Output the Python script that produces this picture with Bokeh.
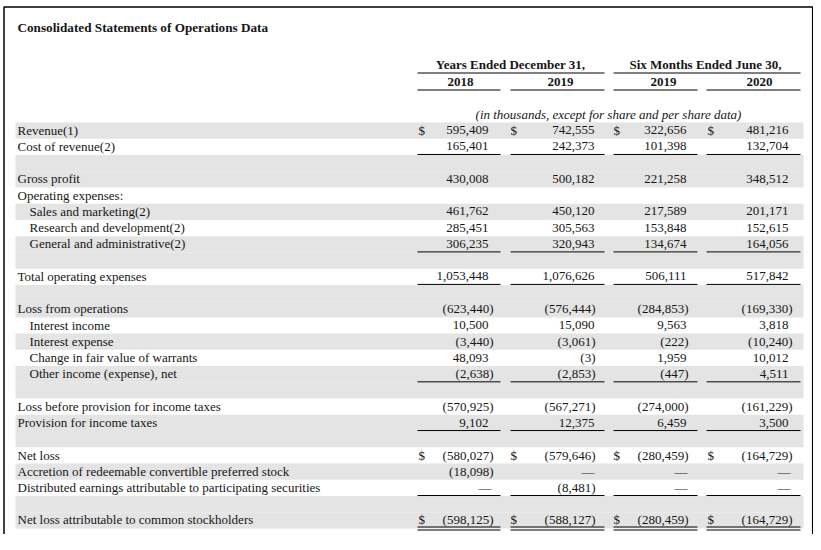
from bokeh.plotting import figure
from bokeh.models import Range1d
from bokeh.embed import file_html
from bokeh.resources import INLINE
from bokeh.core.properties import value

# ---------------- data ----------------
title = "Consolidated Statements of Operations Data"
group_headers = ["Years Ended December 31,", "Six Months Ended June 30,"]
period_labels = ["2018", "2019", "2019", "2020"]
units_note = "(in thousands, except for share and per share data)"

row_labels = [
    "Revenue(1)", "Cost of revenue(2)", "", "Gross profit", "Operating expenses:",
    "Sales and marketing(2)", "Research and development(2)", "General and administrative(2)", "",
    "Total operating expenses", "", "Loss from operations", "Interest income", "Interest expense",
    "Change in fair value of warrants", "Other income (expense), net", "",
    "Loss before provision for income taxes", "Provision for income taxes", "", "Net loss",
    "Accretion of redeemable convertible preferred stock",
    "Distributed earnings attributable to participating securities", "",
    "Net loss attributable to common stockholders",
]
# 0 = em dash, None = blank
fy2018 = [595409, 165401, None, 430008, None, 461762, 285451, 306235, None, 1053448, None,
          -623440, 10500, -3440, 48093, -2638, None, -570925, 9102, None, -580027, -18098, 0, None, -598125]
fy2019 = [742555, 242373, None, 500182, None, 450120, 305563, 320943, None, 1076626, None,
          -576444, 15090, -3061, -3, -2853, None, -567271, 12375, None, -579646, 0, -8481, None, -588127]
h1_2019 = [322656, 101398, None, 221258, None, 217589, 153848, 134674, None, 506111, None,
           -284853, 9563, -222, 1959, -447, None, -274000, 6459, None, -280459, 0, 0, None, -280459]
h1_2020 = [481216, 132704, None, 348512, None, 201171, 152615, 164056, None, 517842, None,
           -169330, 3818, -10240, 10012, 4511, None, -161229, 3500, None, -164729, 0, 0, None, -164729]
columns = [fy2018, fy2019, h1_2019, h1_2020]

indented_rows = {"Sales and marketing(2)", "Research and development(2)", "General and administrative(2)",
                 "Interest income", "Interest expense", "Change in fair value of warrants",
                 "Other income (expense), net"}
dollar_rows = {"Revenue(1)", "Net loss", "Net loss attributable to common stockholders"}
underlined_rows = {"Cost of revenue(2)", "General and administrative(2)", "Total operating expenses",
                   "Other income (expense), net", "Provision for income taxes",
                   "Distributed earnings attributable to participating securities"}
double_underlined_rows = {"Net loss attributable to common stockholders"}
shaded = [1, 0, 1, 1, 0, 1, 0, 1, 1, 0, 1, 1, 0, 1, 0, 1, 1, 0, 1, 1, 0, 1, 0, 1, 1]

# ---------------- layout ----------------
W, H = 813, 534
ROW_TOP = 122.0
RH = 16.24
TEXT = "#161616"
SHADE = "#e4e4e4"
FONT = "Liberation Serif"

COL_L = [417, 510, 613, 706]
COL_R = [500, 604, 697, 800]
POS_R = [488, 594, 686, 788]
NEG_R = [493, 595, 688, 792]
DASH_R = [491, 594, 687, 790]
DOLLAR_X = [418, 510, 613, 707]
YEAR_CX = [460, 560, 663, 759]

p = figure(width=W, height=H, output_backend="svg", toolbar_location=None,
           x_range=Range1d(0, W), y_range=Range1d(H, 0),
           x_axis_type=None, y_axis_type=None, min_border=0)
p.outline_line_color = None
p.grid.visible = False
p.background_fill_color = "white"
p.border_fill_color = "white"

n = len(row_labels)
tops = [ROW_TOP + i * RH for i in range(n)]
bots = [t + RH for t in tops]
mids = [t + RH / 2 - 0.4 for t in tops]

# shaded bands
sh_t = [tops[i] for i in range(n) if shaded[i]]
sh_b = [bots[i] for i in range(n) if shaded[i]]
p.quad(left=15, right=803, top=sh_t, bottom=sh_b, fill_color=SHADE, line_color=None)

# border (open at the bottom)
BL, BR, BT = 3.5, 812.2, 6.5
p.line(x=[BL, BL, BR, BR], y=[H + 2, BT, BT, H + 2], line_color="black", line_width=1.5)

# title
p.text(x=[17], y=[27], text=[title], text_font=value(FONT), text_font_size="13.2px",
       text_font_style="bold", text_baseline="middle", text_color=TEXT)

# group headers
p.text(x=[510, 705], y=[64, 64], text=group_headers, text_font=value(FONT), text_font_size="13px",
       text_font_style="bold", text_align="center", text_baseline="middle", text_color=TEXT)
p.segment(x0=[COL_L[0], COL_L[2]], x1=[COL_R[1], COL_R[3]], y0=[72.5, 72.5], y1=[72.5, 72.5],
          line_color="black", line_width=1)
p.text(x=YEAR_CX, y=[81] * 4, text=period_labels, text_font=value(FONT), text_font_size="13px",
       text_font_style="bold", text_align="center", text_baseline="middle", text_color=TEXT)
p.segment(x0=COL_L, x1=COL_R, y0=[89.5] * 4, y1=[89.5] * 4, line_color="black", line_width=1)

p.text(x=[608], y=[114], text=[units_note], text_font=value(FONT), text_font_size="13px",
       text_font_style="italic", text_align="center", text_baseline="middle", text_color=TEXT)

# row labels
lx, ly, lt = [], [], []
for i, lab in enumerate(row_labels):
    if lab:
        lx.append(29 if lab in indented_rows else 17)
        ly.append(mids[i])
        lt.append(lab)
p.text(x=lx, y=ly, text=lt, text_font=value(FONT), text_font_size="13px",
       text_baseline="middle", text_color=TEXT)

# values
vx, vy, vt = [], [], []
dx, dy = [], []
ux0, ux1, uy = [], [], []
for i, lab in enumerate(row_labels):
    for c, col in enumerate(columns):
        v = col[i]
        if v is None:
            continue
        if v == 0:
            vx.append(DASH_R[c]); vt.append("\u2014")
        elif v < 0:
            vx.append(NEG_R[c]); vt.append(f"({-v:,})")
        else:
            vx.append(POS_R[c]); vt.append(f"{v:,}")
        vy.append(mids[i])
        if lab in dollar_rows:
            dx.append(DOLLAR_X[c]); dy.append(mids[i])
    if lab in underlined_rows:
        for c in range(4):
            ux0.append(COL_L[c]); ux1.append(COL_R[c]); uy.append(bots[i] - 0.5)
    if lab in double_underlined_rows:
        for c in range(4):
            for off in (-1.5, 1.5):
                ux0.append(COL_L[c]); ux1.append(COL_R[c]); uy.append(bots[i] + off)

p.text(x=vx, y=vy, text=vt, text_font=value(FONT), text_font_size="13px",
       text_align="right", text_baseline="middle", text_color=TEXT)
p.text(x=dx, y=dy, text=["$"] * len(dx), text_font=value(FONT), text_font_size="13px",
       text_align="left", text_baseline="middle", text_color=TEXT)
p.segment(x0=ux0, x1=ux1, y0=uy, y1=uy, line_color="black", line_width=1)

open("out.html", "w").write(file_html(p, INLINE))
